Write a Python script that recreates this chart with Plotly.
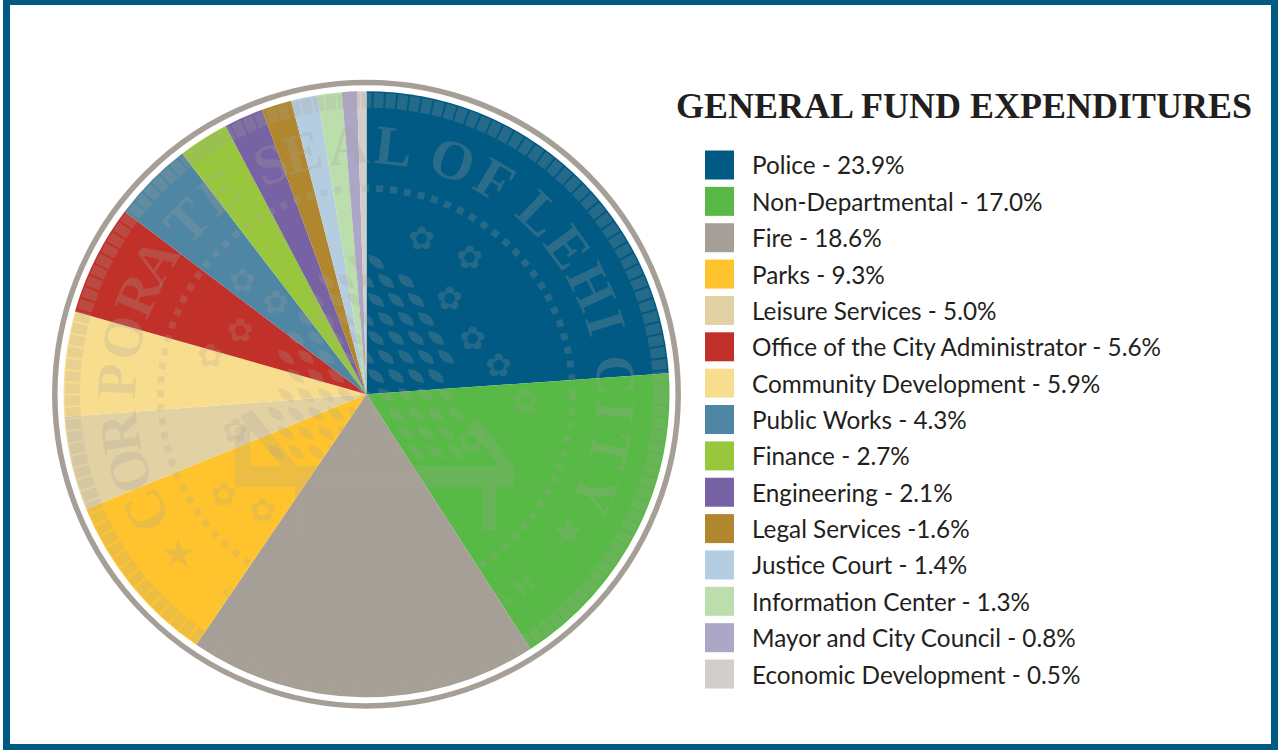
import math
import plotly.graph_objects as go

W, H = 1278, 750

legend_labels = ["Police - 23.9%", "Non-Departmental - 17.0%", "Fire - 18.6%", "Parks - 9.3%",
                 "Leisure Services - 5.0%", "Office of the City Administrator - 5.6%",
                 "Community Development - 5.9%", "Public Works - 4.3%", "Finance - 2.7%",
                 "Engineering - 2.1%", "Legal Services -1.6%", "Justice Court - 1.4%",
                 "Information Center - 1.3%", "Mayor and City Council - 0.8%",
                 "Economic Development - 0.5%"]
legend_colors = ["#005a84", "#58b947", "#a69f97", "#ffc42d", "#e2d1a3", "#c1312a", "#f9dd8e", "#4f86a4",
                 "#98c73e", "#7763a3", "#b0872e", "#b5cde0", "#bbdeac", "#ada6c7", "#d3cec9"]

# Slices in the order and size the picture draws them (yellow before red)
categories = ["Police", "Non-Departmental", "Fire", "Parks", "Leisure Services",
              "Community Development", "Office of the City Administrator", "Public Works",
              "Finance", "Engineering", "Legal Services", "Justice Court",
              "Information Center", "Mayor and City Council", "Economic Development"]
values = [23.9, 17.0, 18.6, 9.3, 5.0, 5.6, 5.9, 4.3, 2.7, 2.1, 1.6, 1.4, 1.3, 0.8, 0.5]
colors = ["#005a84", "#58b947", "#a69f97", "#ffc42d", "#e2d1a3", "#f9dd8e", "#c1312a", "#4f86a4",
          "#98c73e", "#7763a3", "#b0872e", "#b5cde0", "#bbdeac", "#ada6c7", "#d3cec9"]
title_text = "GENERAL FUND EXPENDITURES"

# Seal watermark artwork
seal_top_letters = list("CORPORATESEALOFLEHICITY")
seal_top_angles = [-118, -107.8, -98.9, -87, -76.8, -66.5, -57.6, -46, -36, -22.7, -14.8, -4.2, 6.3,
                   20.2, 30.9, 43.7, 53.8, 64.5, 73.4, 85.6, 94, 102.8, 113.5]
seal_bottom_letters = list("STATEOFUTAH")
seal_bottom_angles = [-34.5, -27.5, -21, -13.5, -7, 1.5, 7.5, 19, 26.5, 33.5, 39.5]
seal_stars = [(568, 531), (178, 553)]
seal_flowers = [(421, 238), (469, 257), (450, 298), (472, 338), (499, 365), (242, 280), (275, 302),
                (240, 330), (223, 494), (262, 510), (375, 515), (415, 525), (390, 590), (470, 440),
                (210, 355), (235, 430), (525, 400), (340, 560), (455, 560)]

CX, CY, R = 366.5, 394.2, 303.0
MARK = "rgba(168,162,154,0.22)"
TEXTMARK = "rgba(168,162,154,0.25)"
px = lambda x: x / W
py = lambda y: 1 - y / H

fig = go.Figure(go.Pie(
    labels=categories, values=values, sort=False, direction="clockwise", rotation=0,
    marker=dict(colors=colors, line=dict(width=0)), textinfo="none", hoverinfo="label+percent",
    domain=dict(x=[px(CX - R), px(CX + R)], y=[py(CY + R), py(CY - R)]),
    showlegend=False,
))

shapes, ann = [], []


def rect(x0, y0, x1, y1, color):
    shapes.append(dict(type="rect", xref="paper", yref="paper", x0=px(x0), x1=px(x1), y0=py(y0), y1=py(y1),
                       fillcolor=color, line=dict(width=0), layer="above"))


def circle(r, width, color, dash="solid"):
    shapes.append(dict(type="circle", xref="paper", yref="paper", x0=px(CX - r), x1=px(CX + r),
                       y0=py(CY + r), y1=py(CY - r), line=dict(width=width, color=color, dash=dash),
                       fillcolor="rgba(0,0,0,0)", layer="above"))


def poly(points, color):
    d = "M" + " L".join(f"{px(a):.5f},{py(b):.5f}" for a, b in points) + " Z"
    shapes.append(dict(type="path", xref="paper", yref="paper", path=d, fillcolor=color,
                       line=dict(width=0), layer="above"))


# page border
BORDER = "#005a84"
rect(3, 0, W, 5, BORDER)
rect(3, 744, W, H, BORDER)
rect(3, 0, 10, H, BORDER)
rect(1271, 0, W, H, BORDER)

# outer ring
circle(311.7, 5.5, "#a69f97")

# seal rope bands
circle(294, 15, MARK, dash="10px,2px")
circle(206, 7, MARK, dash="7px,7px")

# seal shield
rect(235, 466, 514, 487, MARK)
rect(483, 487, 496, 530, MARK)
rect(295, 487, 308, 540, MARK)
rect(235, 427, 250, 466, MARK)
poly([(514, 466), (499, 466), (468, 425), (479, 419)], MARK)
poly([(240, 417), (252, 410), (297, 466), (281, 466)], MARK)

# seal lattice of leaves
for row in range(-7, 4):
    for col in range(-5, 6):
        x = 366 + col * 20 + (10 if row % 2 else 0)
        y = 395 + row * 19
        inside = (((x - 366) / 90) ** 2 + ((y - 395) / 135) ** 2 < 1) if y < 395 else abs(x - 366) < 95
        if inside:
            p = f"M{px(x-8):.5f},{py(y-7):.5f} Q{px(x+7):.5f},{py(y-6):.5f} {px(x+8):.5f},{py(y+7):.5f} " \
                f"Q{px(x-7):.5f},{py(y+6):.5f} {px(x-8):.5f},{py(y-7):.5f} Z"
            shapes.append(dict(type="path", xref="paper", yref="paper", path=p, fillcolor=MARK,
                               line=dict(width=0), layer="above"))


def text(x, y, s, size, color, family, anchor="center", angle=0, weight=None):
    font = dict(size=size, color=color, family=family)
    if weight:
        font["weight"] = weight
    ann.append(dict(x=px(x), y=py(y), xref="paper", yref="paper", text=s, showarrow=False,
                    xanchor=anchor, yanchor="middle", textangle=angle, font=font))


# seal lettering
for ch, a in zip(seal_top_letters, seal_top_angles):
    t = math.radians(a)
    text(CX + 250 * math.sin(t), CY - 250 * math.cos(t), ch, 56, TEXTMARK, "Liberation Serif", angle=a, weight="bold")
for ch, a in zip(seal_bottom_letters, seal_bottom_angles):
    t = math.radians(a)
    text(CX + 246 * math.sin(t), CY + 246 * math.cos(t), ch, 28, MARK, "Liberation Serif", angle=-a)
for x, y in seal_stars:
    text(x, y, "★", 40, MARK, "DejaVu Sans")
for x, y in seal_flowers:
    text(x, y, "✿", 32, MARK, "DejaVu Sans")

# legend and title
text(674, 106, title_text, 36, "#231f20", "Liberation Serif", anchor="left", weight="bold")
for i, (label, c) in enumerate(zip(legend_labels, legend_colors)):
    y = 165 + i * 36.36
    rect(705, y - 14.5, 734, y + 14.5, c)
    text(750, y, label, 24.3, "#231f20", "Lato", anchor="left")

fig.update_layout(width=W, height=H, margin=dict(l=0, r=0, t=0, b=0), paper_bgcolor="white",
                  plot_bgcolor="white", shapes=shapes, annotations=ann)
fig.write_html("out.html", config=dict(displayModeBar=False),
               post_script="document.body.style.margin='0';document.documentElement.style.overflow='hidden';")
